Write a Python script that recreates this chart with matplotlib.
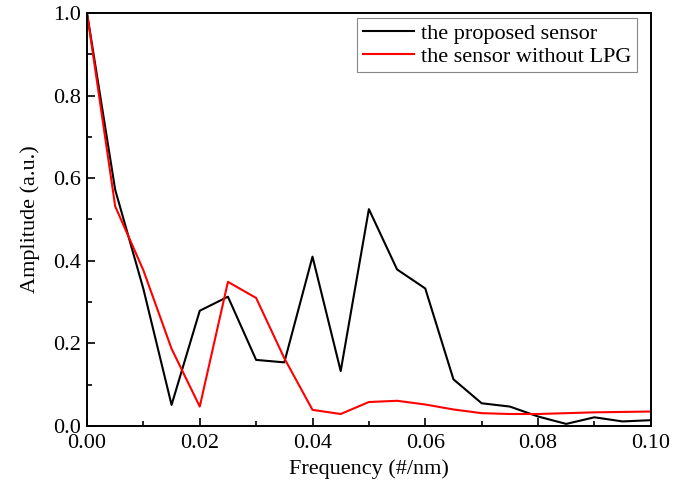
import numpy as np
import matplotlib.pyplot as plt
from matplotlib.ticker import MultipleLocator

plt.rcParams['font.family'] = ['Liberation Serif', 'DejaVu Serif']
plt.rcParams['mathtext.fontset'] = 'stix'

# Datos
freq = np.arange(21) * 0.005
proposed = [1.0, 0.572, 0.332, 0.051, 0.279, 0.313, 0.160, 0.154, 0.410, 0.133,
            0.525, 0.379, 0.333, 0.113, 0.055, 0.047, 0.023, 0.005, 0.021, 0.011, 0.014]
without_lpg = [1.0, 0.532, 0.377, 0.187, 0.047, 0.349, 0.310, 0.164, 0.039, 0.029,
               0.058, 0.061, 0.052, 0.040, 0.031, 0.029, 0.029, 0.031, 0.033, 0.034, 0.035]

fig = plt.figure(figsize=(6.96, 4.94), dpi=100)
ax = fig.add_axes([0.125, 0.1377, 0.81, 0.836])

ax.plot(freq, proposed, color='black', lw=1.5, label='the proposed sensor')
ax.plot(freq, without_lpg, color='red', lw=1.5, label='the sensor without LPG')

ax.set_xlim(0, 0.10)
ax.set_ylim(0, 1.0)
ax.xaxis.set_major_locator(MultipleLocator(0.02))
ax.xaxis.set_minor_locator(MultipleLocator(0.01))
ax.yaxis.set_major_locator(MultipleLocator(0.2))
ax.yaxis.set_minor_locator(MultipleLocator(0.1))
ax.xaxis.set_major_formatter(plt.FormatStrFormatter('%.2f'))
ax.yaxis.set_major_formatter(plt.FormatStrFormatter('%.1f'))
ax.tick_params(which='both', direction='in', labelsize=16, width=1.2)
ax.tick_params(which='major', length=6)
ax.tick_params(which='minor', length=3.5)
ax.tick_params(axis='x', pad=6)
ax.tick_params(axis='y', pad=4)
for s in ax.spines.values():
    s.set_linewidth(1.4)

ax.set_xlabel('Frequency (#/nm)', fontsize=16, labelpad=4)
ax.set_ylabel('Amplitude (a.u.)', fontsize=16, labelpad=10)

leg = ax.legend(loc='upper right', bbox_to_anchor=(0.975, 0.988), fontsize=16,
                fancybox=False, framealpha=1, edgecolor='#888888',
                handlelength=2.3, borderpad=0.25, labelspacing=0.1,
                handletextpad=0.3, borderaxespad=0.0)
leg.get_frame().set_linewidth(0.8)

fig.savefig('out.png', dpi=100)
